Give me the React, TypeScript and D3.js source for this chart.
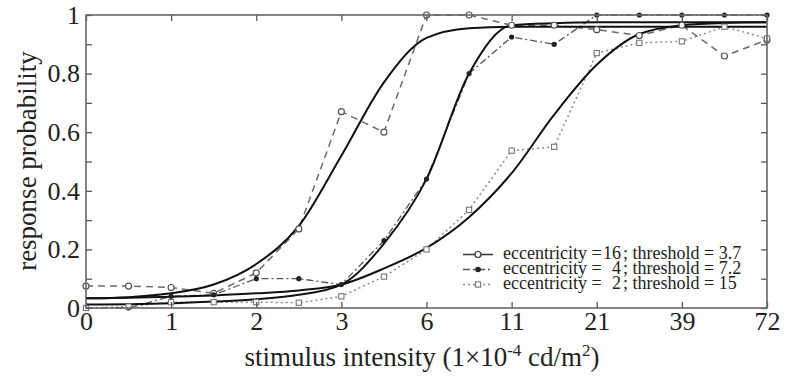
import React, { useEffect, useRef } from "react";
import * as d3 from "d3";

// stimulus levels are plotted at equally spaced positions (index on the axis)
const levels = [0, 0.5, 1, 1.5, 2, 2.5, 3, 3.5, 4, 4.5, 5, 5.5, 6, 6.5, 7, 7.5, 8];
const tickLabels = ["0", "1", "2", "3", "6", "11", "21", "39", "72"];

// measured response probabilities
const ecc16 = [0.075, 0.075, 0.07, 0.05, 0.12, 0.27, 0.67, 0.6, 1.0, 1.0, 0.965, 0.965, 0.95, 0.93, 0.965, 0.86, 0.915];
const ecc4 = [0.0, 0.0, 0.04, 0.045, 0.1, 0.1, 0.08, 0.23, 0.44, 0.8, 0.925, 0.9, 1.0, 1.0, 1.0, 1.0, 1.0];
const ecc2 = [0.0, 0.005, 0.02, 0.02, 0.02, 0.018, 0.04, 0.107, 0.2, 0.335, 0.537, 0.55, 0.87, 0.905, 0.91, 0.96, 0.92];

// fitted psychometric curves
const fit16 = [0.033, 0.037, 0.05, 0.08, 0.15, 0.28, 0.52, 0.77, 0.922, 0.955, 0.96, 0.96, 0.96, 0.96, 0.96, 0.96, 0.96];
const fit4 = [0.012, 0.013, 0.016, 0.022, 0.03, 0.045, 0.08, 0.22, 0.44, 0.8, 0.965, 0.972, 0.975, 0.975, 0.975, 0.975, 0.975];
const fit2 = [0.033, 0.035, 0.038, 0.043, 0.05, 0.06, 0.08, 0.135, 0.205, 0.31, 0.46, 0.66, 0.83, 0.935, 0.965, 0.973, 0.975];

const eccLabels = ["16", "4", "2"];
const thresholdLabels = ["3.7", "7.2", "15"];

export default function App() {
  const ref = useRef<SVGSVGElement>(null);

  useEffect(() => {
    const width = 785, height = 380;
    const margin = { top: 15, right: 18, bottom: 72, left: 86 };
    const font = "'Liberation Serif', 'Times New Roman', serif";

    const svg = d3.select(ref.current);
    svg.selectAll("*").remove();
    svg.attr("width", width).attr("height", height);

    const x = d3.scaleLinear()
      .domain([0, 8])
      .range([margin.left, width - margin.right]);
    const y = d3.scaleLinear()
      .domain([0, 1])
      .range([height - margin.bottom, margin.top]);

    const tenths = d3.range(0, 11).map(d => d / 10);
    const xTicks = d3.range(0, 9);

    const line = d3.line<number>()
      .x((d, i) => x(levels[i]))
      .y(d => y(d));
    const smooth = d3.line<number>()
      .x((d, i) => x(levels[i]))
      .y(d => y(d))
      .curve(d3.curveMonotoneX);

    // data series
    const series = [
      { values: ecc16, color: "#6a6a6a", dash: "7,5", width: 1.5 },
      { values: ecc4, color: "#555", dash: "7,3,2,3", width: 1.3 },
      { values: ecc2, color: "#8a8a8a", dash: "2,3", width: 1.5 },
    ];
    series.forEach(s => {
      svg.append("path")
        .attr("d", line(s.values))
        .attr("fill", "none")
        .attr("stroke", s.color)
        .attr("stroke-width", s.width)
        .attr("stroke-dasharray", s.dash);
    });

    // fits
    [fit16, fit4, fit2].forEach(f => {
      svg.append("path")
        .attr("d", smooth(f))
        .attr("fill", "none")
        .attr("stroke", "#111")
        .attr("stroke-width", 2);
    });

    // markers
    svg.append("g").selectAll("circle")
      .data(ecc16)
      .enter().append("circle")
      .attr("cx", (d, i) => x(levels[i]))
      .attr("cy", d => y(d))
      .attr("r", 3)
      .attr("fill", "white")
      .attr("stroke", "#555")
      .attr("stroke-width", 1.2);

    svg.append("g").selectAll("circle")
      .data(ecc4)
      .enter().append("circle")
      .attr("cx", (d, i) => x(levels[i]))
      .attr("cy", d => y(d))
      .attr("r", 2.6)
      .attr("fill", "#222");

    svg.append("g").selectAll("rect")
      .data(ecc2)
      .enter().append("rect")
      .attr("x", (d, i) => x(levels[i]) - 2.6)
      .attr("y", d => y(d) - 2.6)
      .attr("width", 5.2)
      .attr("height", 5.2)
      .attr("fill", "white")
      .attr("stroke", "#777")
      .attr("stroke-width", 1.1);

    // axes, ticks pointing inward
    const styleAxis = (g: any) => {
      g.select(".domain").remove();
      g.selectAll(".tick line").attr("stroke", "#555").attr("stroke-width", 1.3);
      g.selectAll("text")
        .attr("font-family", font)
        .attr("font-size", 26)
        .attr("fill", "#222");
    };

    svg.append("g")
      .attr("transform", `translate(0,${height - margin.bottom})`)
      .call(d3.axisBottom(x).tickValues(xTicks).tickSize(-6).tickPadding(4)
        .tickFormat((d, i) => tickLabels[i]))
      .call(styleAxis);

    svg.append("g")
      .attr("transform", `translate(0,${margin.top})`)
      .call(d3.axisTop(x).tickValues(xTicks).tickSize(-6).tickFormat(() => ""))
      .call(styleAxis);

    svg.append("g")
      .attr("transform", `translate(${margin.left},0)`)
      .call(d3.axisLeft(y).tickValues(tenths).tickSize(-6).tickPadding(6)
        .tickFormat((d: any) => {
          const k = Math.round(d * 10);
          if (k % 2 !== 0) return "";
          return k === 0 ? "0" : k === 10 ? "1" : d3.format(".1f")(d);
        }))
      .call(styleAxis);

    svg.append("g")
      .attr("transform", `translate(${width - margin.right},0)`)
      .call(d3.axisRight(y).tickValues(tenths).tickSize(-6).tickFormat(() => ""))
      .call(styleAxis);

    svg.append("rect")
      .attr("x", margin.left)
      .attr("y", margin.top)
      .attr("width", width - margin.left - margin.right)
      .attr("height", height - margin.top - margin.bottom)
      .attr("fill", "none")
      .attr("stroke", "#666")
      .attr("stroke-width", 1.6);

    // axis titles
    const xt = svg.append("text")
      .attr("x", 422)
      .attr("y", 366)
      .attr("text-anchor", "middle")
      .attr("font-family", font)
      .attr("font-size", 27)
      .attr("fill", "#222");
    xt.append("tspan").text("stimulus intensity (1×10");
    xt.append("tspan").attr("dy", -10).attr("font-size", 17).text("-4");
    xt.append("tspan").attr("dy", 10).text("\u00a0cd/m");
    xt.append("tspan").attr("dy", -10).attr("font-size", 17).text("2");
    xt.append("tspan").attr("dy", 10).text(")");

    svg.append("text")
      .attr("transform", "translate(36,161) rotate(-90)")
      .attr("text-anchor", "middle")
      .attr("font-family", font)
      .attr("font-size", 27)
      .attr("fill", "#222")
      .text("response probability");

    // legend
    const rowY = [254.5, 269.5, 284.5];
    eccLabels.forEach((e, i) => {
      const s = series[i];
      const g = svg.append("g");
      g.append("line")
        .attr("x1", 463).attr("x2", 493)
        .attr("y1", rowY[i]).attr("y2", rowY[i])
        .attr("stroke", i === 0 ? "#333" : s.color)
        .attr("stroke-width", s.width)
        .attr("stroke-dasharray", i === 0 ? "none" : s.dash);
      if (i === 0) {
        g.append("circle").attr("cx", 478).attr("cy", rowY[i]).attr("r", 3)
          .attr("fill", "white").attr("stroke", "#333").attr("stroke-width", 1.2);
      } else if (i === 1) {
        g.append("circle").attr("cx", 478).attr("cy", rowY[i]).attr("r", 2.8).attr("fill", "#222");
      } else {
        g.append("rect").attr("x", 475.4).attr("y", rowY[i] - 2.6)
          .attr("width", 5.2).attr("height", 5.2)
          .attr("fill", "white").attr("stroke", "#777").attr("stroke-width", 1.1);
      }
      const base = rowY[i] + 4.5;
      const txt = (xx: number, anchor: string, str: string) =>
        g.append("text")
          .attr("x", xx).attr("y", base)
          .attr("text-anchor", anchor)
          .attr("font-family", font)
          .attr("font-size", 18)
          .attr("fill", "#222")
          .text(str);
      txt(503, "start", "eccentricity =");
      txt(621, "end", e);
      txt(623, "start", `; threshold = ${thresholdLabels[i]}`);
    });
  }, []);

  return (
    <div style={{ position: "absolute", left: 0, top: 0 }}>
      <svg ref={ref}></svg>
    </div>
  );
}
